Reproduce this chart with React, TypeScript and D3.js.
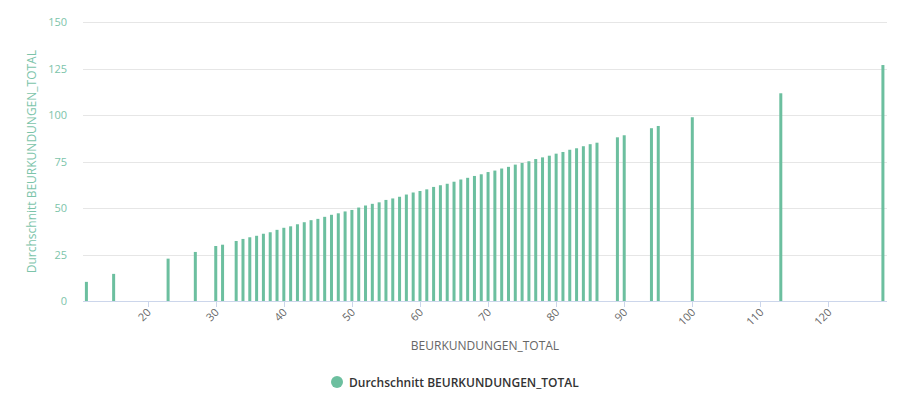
import * as d3 from 'd3'
import { useEffect, useRef } from 'react'

// x positions (BEURKUNDUNGEN_TOTAL) and the average
const totals = [
  11, 15, 23, 27, 30, 31, 33, 34, 35, 36, 37, 38, 39, 40, 41, 42, 43, 44, 45, 46, 47, 48, 49, 50, 51, 52,
  53, 54, 55, 56, 57, 58, 59, 60, 61, 62, 63, 64, 65, 66, 67, 68, 69, 70, 71, 72, 73, 74, 75, 76, 77, 78,
  79, 80, 81, 82, 83, 84, 85, 86, 89, 90, 94, 95, 100, 113, 128,
]
const averages = [
  10.3, 14.6, 22.8, 26.4, 29.6, 30.3, 32.3, 33.4, 34.3, 35.1, 36.2, 37.0, 38.3, 39.4, 40.2, 41.3, 42.4,
  43.5, 44.2, 45.3, 46.4, 47.2, 48.2, 49.0, 50.3, 51.4, 52.3, 53.1, 54.4, 55.2, 56.1, 57.3, 58.4, 59.2,
  60.1, 61.4, 62.3, 63.1, 64.2, 65.4, 66.3, 67.3, 68.2, 69.4, 70.2, 71.3, 72.2, 73.4, 74.3, 75.2, 76.4,
  77.3, 78.2, 79.3, 80.2, 81.4, 82.2, 83.3, 84.4, 85.2, 88.1, 89.2, 93.0, 94.2, 98.9, 111.8, 127.0,
]
const xTicks = [20, 30, 40, 50, 60, 70, 80, 90, 100, 110, 120]
const yTicks = [0, 25, 50, 75, 100, 125, 150]

const seriesName = 'Durchschnitt BEURKUNDUNGEN_TOTAL'
const xTitle = 'BEURKUNDUNGEN_TOTAL'
const color = '#6cbf9f'
const font = '"Open Sans", sans-serif'

export default function App() {
  const ref = useRef<SVGSVGElement>(null)

  useEffect(() => {
    const svg = d3.select(ref.current)
    svg.selectAll('*').remove()

    const x = d3.scaleLinear().domain([10.5, 128.6]).range([83, 887])
    const y = d3.scaleLinear().domain([0, 150]).range([301, 22.3])

    // grid
    svg
      .append('g')
      .selectAll('line')
      .data(yTicks)
      .join('line')
      .attr('x1', 83)
      .attr('x2', 887)
      .attr('y1', (d) => Math.round(y(d)) + 0.5)
      .attr('y2', (d) => Math.round(y(d)) + 0.5)
      .attr('stroke', '#e6e6e6')

    // y labels
    svg
      .append('g')
      .selectAll('text')
      .data(yTicks)
      .join('text')
      .attr('x', 67)
      .attr('y', (d) => y(d) + 4)
      .attr('text-anchor', 'end')
      .attr('font-family', font)
      .attr('font-size', 11)
      .attr('fill', '#7cc4aa')
      .text((d) => d)

    svg
      .append('text')
      .attr('transform', `translate(36,${y(75)}) rotate(-90)`)
      .attr('text-anchor', 'middle')
      .attr('font-family', font)
      .attr('font-size', 12)
      .attr('fill', '#7cc4aa')
      .text(seriesName)

    // bars
    const bw = 3
    svg
      .append('g')
      .selectAll('rect')
      .data(totals)
      .join('rect')
      .attr('x', (d) => x(d) - bw / 2)
      .attr('width', bw)
      .attr('y', (_, i) => y(averages[i]))
      .attr('height', (_, i) => y(0) - y(averages[i]))
      .attr('fill', color)

    // x axis
    svg
      .append('line')
      .attr('x1', 83)
      .attr('x2', 887)
      .attr('y1', 301.5)
      .attr('y2', 301.5)
      .attr('stroke', '#ccd6eb')

    const xt = svg.append('g').selectAll('g').data(xTicks).join('g')
    xt.append('line')
      .attr('x1', (d) => Math.round(x(d)) + 0.5)
      .attr('x2', (d) => Math.round(x(d)) + 0.5)
      .attr('y1', 301)
      .attr('y2', 307)
      .attr('stroke', '#ccd6eb')
    xt.append('text')
      .attr('transform', (d) => `translate(${x(d) + 4},${313}) rotate(-45)`)
      .attr('text-anchor', 'end')
      .attr('font-family', font)
      .attr('font-size', 11)
      .attr('fill', '#666666')
      .text((d) => d)

    svg
      .append('text')
      .attr('x', 485)
      .attr('y', 350)
      .attr('text-anchor', 'middle')
      .attr('font-family', font)
      .attr('font-size', 12)
      .attr('fill', '#666666')
      .text(xTitle)

    // legend
    svg.append('circle').attr('cx', 337).attr('cy', 382).attr('r', 6).attr('fill', color)
    svg
      .append('text')
      .attr('x', 349)
      .attr('y', 386.5)
      .attr('font-family', font)
      .attr('font-size', 12)
      .attr('font-weight', 600)
      .attr('fill', '#333333')
      .text(seriesName)
  }, [])

  return (
    <svg
      ref={ref}
      width={907}
      height={417}
      style={{ position: 'absolute', left: 0, top: 0, background: '#fff' }}
    />
  )
}
